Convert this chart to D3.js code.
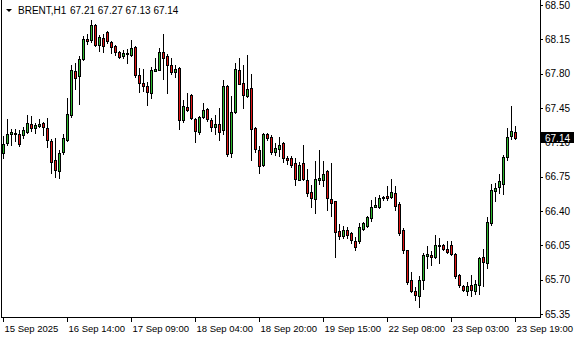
<!DOCTYPE html>
<html>
<head>
<meta charset="utf-8">
<script src="https://cdn.jsdelivr.net/npm/d3@7"></script>
<style>
  body { margin: 0; background: #fff; }
  svg { display: block; }
  text { font-family: "Liberation Sans", Arial, sans-serif; }
</style>
</head>
<body>
<svg id="chart" width="580" height="340"></svg>
<script>
// BRENT H1 candles (oldest first)
const opens = [66.99,67.09,67.18,67.20,67.19,67.17,67.21,67.29,67.25,67.27,67.30,67.25,67.11,66.92,66.81,67.00,
  67.12,67.38,67.83,67.78,67.95,68.15,68.14,68.30,68.09,68.16,68.22,68.12,68.08,68.02,67.98,68.00,
  67.99,68.07,67.79,67.70,67.67,67.60,67.83,67.84,68.02,67.98,67.89,67.82,67.86,67.33,67.46,67.58,
  67.34,67.21,67.36,67.44,67.33,67.26,67.29,67.23,67.67,66.99,67.41,67.84,67.70,67.57,67.65,67.25,
  67.02,66.87,67.18,67.15,67.00,67.03,67.09,66.94,66.94,66.89,66.72,66.89,66.72,66.59,66.52,66.72,
  66.72,66.81,66.52,66.50,66.20,66.15,66.21,66.18,66.09,66.09,66.22,66.25,66.33,66.44,66.44,66.53,
  66.55,66.54,66.58,66.47,66.21,66.00,65.70,65.58,65.53,65.70,65.94,65.95,65.93,66.05,66.05,66.01,
  66.05,65.96,65.75,65.64,65.58,65.65,65.58,65.65,65.93,65.87,66.28,66.60,66.64,66.68,66.95,67.16,
  67.21];
const highs = [67.16,67.34,67.24,67.24,67.23,67.26,67.38,67.37,67.30,67.34,67.31,67.35,67.13,67.14,67.02,67.19,
  67.55,67.89,67.91,67.98,68.18,68.20,68.35,68.31,68.19,68.20,68.24,68.13,68.09,68.03,68.04,68.05,
  68.14,68.08,67.86,67.85,67.71,67.87,67.96,68.06,68.20,68.00,67.96,67.89,67.87,67.53,67.60,67.59,
  67.35,67.37,67.50,67.45,67.35,67.38,67.45,67.74,67.68,67.57,67.91,67.96,67.89,67.99,67.80,67.26,
  67.06,67.20,67.20,67.17,67.09,67.15,67.10,66.96,66.96,66.94,66.90,67.07,66.83,66.67,66.91,67.02,
  66.91,66.82,66.89,66.50,66.27,66.25,66.24,66.19,66.13,66.28,66.29,66.35,66.51,66.54,66.56,66.55,
  66.65,66.73,66.65,66.49,66.23,66.00,65.78,65.63,65.74,65.97,66.04,65.99,66.16,66.12,66.06,66.09,
  66.09,65.97,65.76,65.65,65.68,65.75,65.70,65.93,66.01,66.34,66.68,66.69,66.78,66.97,67.25,67.47,
  67.27];
const lows = [66.94,67.07,67.07,67.11,67.06,67.14,67.20,67.22,67.20,67.26,67.17,67.05,66.79,66.75,66.74,66.98,
  67.11,67.36,67.64,67.49,67.94,68.10,68.12,68.08,68.03,68.02,68.11,68.01,67.99,67.96,67.96,67.91,
  67.98,67.77,67.61,67.62,67.48,67.55,67.83,67.84,67.75,67.60,67.80,67.77,67.24,67.31,67.42,67.34,
  67.10,67.19,67.35,67.32,67.22,67.18,67.12,67.18,66.96,66.95,67.40,67.69,67.45,67.56,66.92,67.00,
  66.79,66.86,67.12,66.98,66.97,66.96,66.90,66.88,66.85,66.66,66.72,66.72,66.55,66.44,66.38,66.68,
  66.65,66.41,66.35,65.93,66.11,66.12,66.12,66.07,66.00,66.07,66.21,66.24,66.30,66.44,66.43,66.51,
  66.51,66.53,66.41,66.16,65.97,65.66,65.57,65.49,65.42,65.60,65.82,65.85,65.92,65.87,66.00,65.97,
  65.95,65.72,65.63,65.58,65.54,65.53,65.55,65.55,65.64,65.82,66.26,66.50,66.58,66.57,66.92,67.13,
  67.13];
const closes = [67.08,67.19,67.21,67.18,67.08,67.23,67.30,67.25,67.28,67.29,67.26,67.12,66.90,66.82,66.99,67.14,
  67.39,67.84,67.76,67.95,68.15,68.13,68.30,68.09,68.17,68.08,68.13,68.07,68.02,67.97,68.01,68.01,
  68.06,67.79,67.70,67.67,67.61,67.84,67.85,68.02,67.96,67.89,67.82,67.85,67.33,67.47,67.43,67.35,
  67.22,67.36,67.43,67.34,67.26,67.29,67.21,67.67,66.98,67.41,67.85,67.69,67.58,67.64,67.24,67.03,
  66.86,67.19,67.14,67.00,67.04,67.07,66.94,66.92,66.87,66.73,66.87,66.73,66.58,66.53,66.73,66.74,
  66.78,66.53,66.48,66.19,66.15,66.21,66.16,66.10,66.03,66.24,66.28,66.34,66.44,66.46,66.53,66.54,
  66.53,66.59,66.45,66.18,66.00,65.68,65.58,65.54,65.70,65.95,65.96,65.93,66.05,66.04,66.01,65.98,
  65.96,65.74,65.65,65.59,65.64,65.59,65.66,65.92,65.88,66.29,66.61,66.63,66.71,66.95,67.15,67.22,
  67.14];

// axis labels
const priceTicks = [68.50, 68.15, 67.80, 67.45, 67.10, 66.75, 66.40, 66.05, 65.70, 65.35];
const timeTickBars = [0, 16, 32, 48, 64, 80, 96, 112, 128];
const timeTickLabels = ["15 Sep 2025", "16 Sep 14:00", "17 Sep 09:00", "18 Sep 04:00", "18 Sep 20:00",
  "19 Sep 15:00", "22 Sep 08:00", "23 Sep 03:00", "23 Sep 19:00"];
const symbol = "BRENT,H1";

const upColor = "#2eb82e", downColor = "#e01414";
const plotRight = 540, plotBottom = 317;

const svg = d3.select("#chart");
svg.append("rect").attr("width", 580).attr("height", 340).attr("fill", "#fff");

const x = d3.scaleLinear().domain([0, opens.length - 1]).range([3, 515]);
const y = d3.scaleLinear().domain([65.35, 68.50]).range([314, 5]);

const bars = opens.map((o, i) => ({ i: i, o: o, h: highs[i], l: lows[i], c: closes[i] }));
const fmt = d3.format(".2f");

// frame
const frame = svg.append("g").attr("shape-rendering", "crispEdges").attr("stroke", "#000");
frame.append("line").attr("x1", 1.5).attr("x2", 1.5).attr("y1", 0).attr("y2", plotBottom + 1);
frame.append("line").attr("x1", plotRight + 0.5).attr("x2", plotRight + 0.5).attr("y1", 0).attr("y2", plotBottom + 1);
frame.append("line").attr("x1", 1).attr("x2", plotRight + 1).attr("y1", plotBottom + 0.5).attr("y2", plotBottom + 0.5);

// candles
const cg = svg.append("g").attr("shape-rendering", "crispEdges");
const candle = cg.selectAll("g.candle").data(bars).join("g").attr("class", "candle");

// wick
candle.append("rect")
  .attr("x", d => Math.round(x(d.i)))
  .attr("width", 1)
  .attr("y", d => Math.round(y(d.h)))
  .attr("height", d => Math.round(y(d.l)) - Math.round(y(d.h)) + 1)
  .attr("fill", "#000");

// body outline
candle.append("rect")
  .attr("x", d => Math.round(x(d.i)) - 1)
  .attr("width", 3)
  .attr("y", d => Math.round(y(Math.max(d.o, d.c))))
  .attr("height", d => Math.round(y(Math.min(d.o, d.c))) - Math.round(y(Math.max(d.o, d.c))) + 1)
  .attr("fill", "#000");

// body fill
candle.append("rect")
  .attr("x", d => Math.round(x(d.i)))
  .attr("width", 1)
  .attr("y", d => Math.round(y(Math.max(d.o, d.c))) + 1)
  .attr("height", d => Math.max(0, Math.round(y(Math.min(d.o, d.c))) - Math.round(y(Math.max(d.o, d.c))) - 1))
  .attr("fill", d => d.c >= d.o ? upColor : downColor);

// price scale
const yAxis = svg.append("g")
  .attr("transform", `translate(${plotRight},0)`)
  .call(d3.axisRight(y).tickValues(priceTicks).tickSize(3).tickPadding(2).tickFormat(fmt));
yAxis.select(".domain").remove();
yAxis.attr("font-family", null).attr("font-size", null);
yAxis.selectAll("text").style("font-size", "10px").attr("fill", "#000");
yAxis.selectAll("line").attr("stroke", "#000").attr("shape-rendering", "crispEdges");

// time scale
const xAxis = svg.append("g")
  .attr("transform", `translate(0,${plotBottom})`)
  .call(d3.axisBottom(x).tickValues(timeTickBars).tickSize(5).tickPadding(3)
    .tickFormat((d, i) => timeTickLabels[i]));
xAxis.select(".domain").remove();
xAxis.attr("font-family", null).attr("font-size", null);
xAxis.selectAll("text").style("font-size", "9.5px").attr("fill", "#000")
  .attr("text-anchor", "start").attr("x", 1);
xAxis.selectAll("line").attr("stroke", "#000").attr("shape-rendering", "crispEdges");

// current price marker (covers the 67.10 label like the terminal does)
const last = bars[bars.length - 1];
const ly = Math.round(y(last.c));
svg.append("rect").attr("x", plotRight + 1).attr("y", ly - 6).attr("width", 33).attr("height", 11)
  .attr("fill", "#000").attr("shape-rendering", "crispEdges");
svg.append("text").attr("x", plotRight + 5).attr("y", ly + 0.5).attr("dy", "0.32em")
  .style("font-size", "10px").attr("fill", "#fff").text(fmt(last.c));

// header
svg.append("path").attr("d", "M6,9 L12,9 L9,12 Z").attr("fill", "#000");
svg.append("text").attr("x", 18).attr("y", 14).style("font-size", "10px").attr("fill", "#000").text(symbol);
svg.append("text").attr("x", 70).attr("y", 14).style("font-size", "10px").attr("fill", "#000")
  .text([last.o, last.h, last.l, last.c].map(fmt).join(" "));
</script>
</body>
</html>
